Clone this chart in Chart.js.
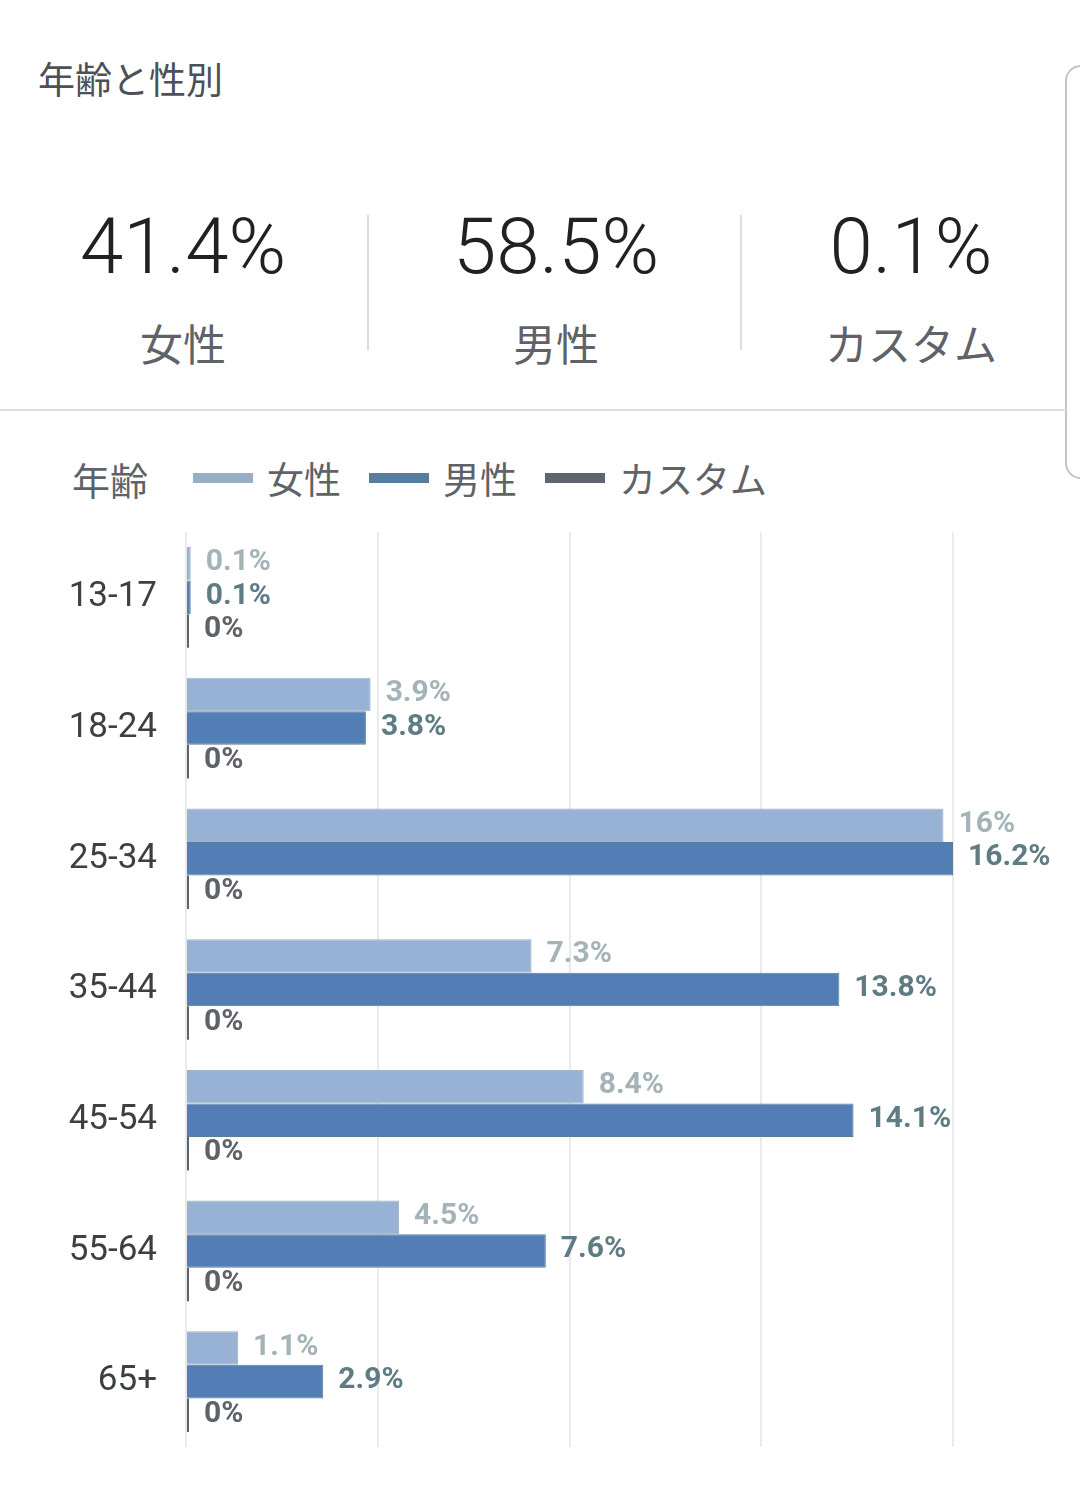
<!DOCTYPE html>
<html lang="ja">
<head>
<meta charset="utf-8">
<script src="https://cdn.jsdelivr.net/npm/chart.js@4/dist/chart.umd.min.js"></script>
<style>
  html, body { margin: 0; padding: 0; background: #ffffff; }
  body { width: 1080px; height: 1494px; position: relative; overflow: hidden;
         font-family: Roboto, "Noto Sans CJK JP", sans-serif; }
  .abs { position: absolute; }
  #title { left: 38px; top: 58px; font-size: 37px; color: #4d5156; line-height: 48px; white-space: nowrap; }
  .big { font-size: 78px; font-weight: 300; color: #202124; line-height: 90px; width: 360px; text-align: center; top: 202px; }
  .sub { font-size: 43px; color: #5f6368; line-height: 56px; width: 360px; text-align: center; top: 318px; }
  .vdiv { width: 2px; background: #dadce0; top: 215px; height: 135px; }
  #hdiv { left: 0; top: 409px; width: 1066px; height: 2px; background: #dadce0; }
  #rbox { left: 1065px; top: 65px; width: 60px; height: 410px; border: 2px solid #c4c4c4; border-radius: 16px; }
  #legend { left: 72px; top: 452px; height: 52px; display: flex; align-items: center; white-space: nowrap; }
  #legend .lt { font-size: 38px; color: #5f6368; margin-right: 45px; }
  #legend .sw { width: 60px; height: 10px; margin-right: 14px; }
  #legend .tx { font-size: 37px; color: #5f6368; margin-right: 28px; }
  #chart { left: 0; top: 520px; }
</style>
</head>
<body>
<div id="title" class="abs">年齢と性別</div>
<div id="rbox" class="abs"></div>
<div id="stats"></div>
<div class="abs vdiv" style="left:367px"></div>
<div class="abs vdiv" style="left:740px"></div>
<div id="hdiv" class="abs"></div>
<div id="legend" class="abs"></div>
<canvas id="chart" class="abs" width="1080" height="940"></canvas>
<script>
// ---- data ----
const summaryLabels = ["女性", "男性", "カスタム"];
const summaryValues = ["41.4%", "58.5%", "0.1%"];
const ageGroups = ["13-17", "18-24", "25-34", "35-44", "45-54", "55-64", "65+"];
const femaleValues = [0.1, 3.9, 16, 7.3, 8.4, 4.5, 1.1];
const maleValues = [0.1, 3.8, 16.2, 13.8, 14.1, 7.6, 2.9];
const customValues = [0, 0, 0, 0, 0, 0, 0];
const axisMax = 16.2;

// ---- styles ----
const seriesStyle = [
  { fill: "#98b2d6", border: "#a3b4c2", label: "#a4b3b7", swatch: "#98aec6" },
  { fill: "#537db5", border: "#5a7d96", label: "#5f7b83", swatch: "#587c9c" },
  { fill: "#5f6368", border: "#5f6368", label: "#5f6368", swatch: "#5f6670" }
];

// summary header
const centers = [183, 556, 911];
const stats = document.getElementById("stats");
summaryLabels.forEach((lab, i) => {
  const b = document.createElement("div");
  b.className = "abs big"; b.style.left = (centers[i] - 180) + "px"; b.textContent = summaryValues[i];
  const s = document.createElement("div");
  s.className = "abs sub"; s.style.left = (centers[i] - 180) + "px"; s.textContent = lab;
  stats.appendChild(b); stats.appendChild(s);
});

// legend
const legend = document.getElementById("legend");
const lt = document.createElement("span"); lt.className = "lt"; lt.textContent = "年齢"; legend.appendChild(lt);
summaryLabels.forEach((lab, i) => {
  const sw = document.createElement("span"); sw.className = "sw"; sw.style.background = seriesStyle[i].swatch;
  const tx = document.createElement("span"); tx.className = "tx"; tx.textContent = lab;
  legend.appendChild(sw); legend.appendChild(tx);
});

const fmt = v => (Math.round(v * 10) / 10) + "%";

const valueLabels = {
  id: "valueLabels",
  afterDatasetsDraw(chart) {
    const ctx = chart.ctx;
    ctx.save();
    ctx.font = "bold 30px Roboto, 'Noto Sans CJK JP', sans-serif";
    ctx.textBaseline = "middle";
    ctx.textAlign = "left";
    chart.data.datasets.forEach((ds, di) => {
      const meta = chart.getDatasetMeta(di);
      ctx.fillStyle = seriesStyle[di].label;
      meta.data.forEach((bar, i) => {
        ctx.fillText(fmt(ds.data[i]), bar.x + 15, bar.y - 1);
      });
    });
    ctx.restore();
  }
};

const mkDs = (label, data, i) => ({
  label, data,
  backgroundColor: seriesStyle[i].fill,
  borderColor: seriesStyle[i].border,
  borderWidth: i === 2 ? 0 : 1,
  borderSkipped: "start",
  minBarLength: 3,
  barPercentage: 1.0,
  categoryPercentage: 0.77
});

new Chart(document.getElementById("chart"), {
  type: "bar",
  data: {
    labels: ageGroups,
    datasets: [
      mkDs(summaryLabels[0], femaleValues, 0),
      mkDs(summaryLabels[1], maleValues, 1),
      mkDs(summaryLabels[2], customValues, 2)
    ]
  },
  options: {
    indexAxis: "y",
    responsive: false,
    devicePixelRatio: 1,
    animation: false,
    layout: { padding: { left: 0, right: 127, top: 12, bottom: 13 } },
    plugins: { legend: { display: false }, tooltip: { enabled: false } },
    scales: {
      x: {
        min: 0, max: axisMax,
        ticks: { display: false, count: 5 },
        grid: { color: "#e8eaed", lineWidth: 2, drawTicks: false },
        border: { display: false },
        afterFit(s) { s.height = 0; s.paddingLeft = 0; s.paddingRight = 0; }
      },
      y: {
        grid: { display: false, drawTicks: false },
        border: { display: false },
        ticks: { color: "#3c4043", padding: 29, font: { size: 35, family: "Roboto, 'Noto Sans CJK JP', sans-serif" } },
        afterFit(s) { s.width = 186; s.paddingTop = 0; s.paddingBottom = 0; }
      }
    }
  },
  plugins: [valueLabels]
});
</script>
</body>
</html>
